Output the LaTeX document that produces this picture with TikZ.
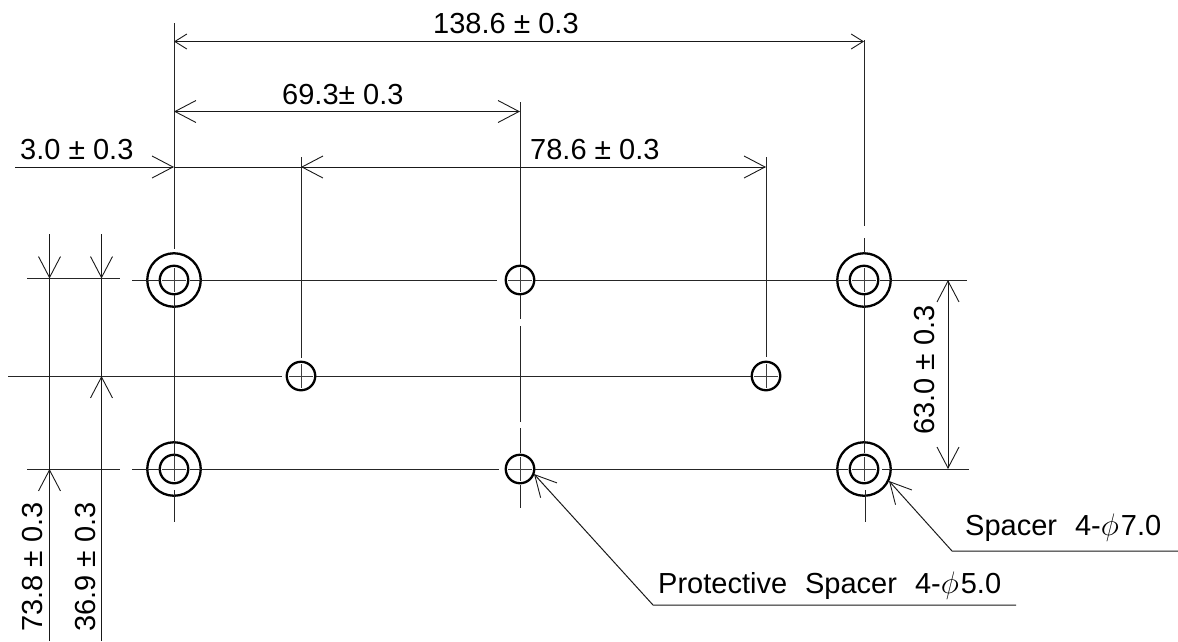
\documentclass[tikz,border=0pt]{standalone}
\usepackage{fontspec}
\setmainfont{Liberation Sans}
\usetikzlibrary{arrows.meta,calc}
\newcommand{\plusminus}{{\fontsize{30}{30}\selectfont ±}}
\newcommand{\diam}{\scalebox{1.25}{\ensuremath{\phi}}}
\tikzset{
  x=1pt,y=-1pt,
  axisline/.style={line width=1pt,black!85},
  crossline/.style={line width=0.8pt,black!75},
  dimline/.style={line width=1pt,black!90},
  bigtip/.style={{Straight Barb[length=21pt,width=22pt,line width=0.9pt]}-{Straight Barb[length=21pt,width=22pt,line width=0.9pt]}},
  endtip/.style={-{Straight Barb[length=21pt,width=22pt,line width=0.9pt]}},
  smalltip/.style={{Straight Barb[length=12pt,width=15pt,line width=0.9pt]}-{Straight Barb[length=12pt,width=15pt,line width=0.9pt]}},
  hole/.style={circle,draw,line width=2.3pt,minimum size=28.5pt,inner sep=0pt,fill=white},
  ring/.style={circle,draw,line width=2.3pt,minimum size=53.5pt,inner sep=0pt},
  dimtext/.style={font=\fontsize{29}{29}\selectfont,inner sep=0pt,anchor=base west},
  vdimtext/.style={dimtext,rotate=90},
}
\begin{document}
\begin{tikzpicture}
\useasboundingbox (0,0) rectangle (1178,641);
% centre coordinates
\coordinate (A) at (174,280); \coordinate (B) at (520,280); \coordinate (C) at (864,280);
\coordinate (D) at (174,469); \coordinate (E) at (520,469); \coordinate (F) at (864,469);
\coordinate (G) at (301,376); \coordinate (H) at (766,376);

% holes
\node[ring] (ringA) at (A) {}; \node[ring] (ringC) at (C) {};
\node[ring] (ringD) at (D) {}; \node[ring] (ringF) at (F) {};
\foreach \n in {A,B,C,D,E,F,G,H}{
  \node[hole] (hole\n) at (\n) {};
  \draw[crossline] ($(\n)+(-12,0)$) -- ($(\n)+(12,0)$) ($(\n)+(0,-12)$) -- ($(\n)+(0,12)$);
}

% centre lines, horizontal
\draw[axisline] (132,280) -- (160,280) (190,280) -- (497,280) (535,280) -- (848,280) (880,280) -- (967,280);
\draw[axisline] (132,469) -- (160,469) (190,469) -- (499,469) (535,469) -- (848,469) (882,469) -- (969,469);
\draw[axisline] (8,376) -- (282,376) (316,376) -- (751,376);
% centre lines, vertical
\draw[axisline] (174,23) -- (174,249) (174,295) -- (174,457) (174,490) -- (174,522);
\draw[axisline] (520,102) -- (520,265) (520,295) -- (520,319) (520,326) -- (520,422) (520,428) -- (520,453) (520,485) -- (520,508);
\draw[axisline] (864,40) -- (864,226) (864,238) -- (864,253) (864,295) -- (864,453) (865,490) -- (865,522);
\draw[axisline] (301,157) -- (301,358);
\draw[axisline] (766,157) -- (766,357);

% horizontal dimensions
\coordinate (t1) at (174,41.5); \coordinate (t2) at (864,41.5);
\draw[dimline,smalltip] (t1) -- (t2);
\coordinate (m1) at (174,111.5); \coordinate (m2) at (520,111.5);
\draw[dimline,bigtip] (m1) -- (m2);
\coordinate (l0) at (15,167); \coordinate (l1) at (174,167); \coordinate (l2) at (301,167); \coordinate (l3) at (766,167);
\draw[dimline,endtip] (l0) -- (l1);
\draw[dimline] (l1) -- (l2);
\draw[dimline,bigtip] (l2) -- (l3);

% vertical dimensions, left
\draw[axisline] (27,278.5) -- (120,278.5) (27,469) -- (120,469);
\coordinate (v1a) at (49.5,234); \coordinate (v1b) at (49.5,278.5); \coordinate (v1c) at (49.5,469); \coordinate (v1d) at (49.5,641);
\draw[dimline,endtip] (v1a) -- (v1b);
\draw[dimline] (v1b) -- (v1c);
\draw[dimline,endtip] (v1d) -- (v1c);
\coordinate (v2a) at (101.5,234); \coordinate (v2b) at (101.5,278.5); \coordinate (v2c) at (101.5,376); \coordinate (v2d) at (101.5,641);
\draw[dimline,endtip] (v2a) -- (v2b);
\draw[dimline] (v2b) -- (v2c);
\draw[dimline,endtip] (v2d) -- (v2c);

% vertical dimension, right
\coordinate (r1) at (948,280); \coordinate (r2) at (948,469);
\draw[dimline,bigtip] (r1) -- (r2);

% leaders
\coordinate (s1) at (889,481); \coordinate (s2) at (952,551); \coordinate (s3) at (1178,551);
\draw[dimline,{Straight Barb[length=21pt,width=22pt,line width=0.9pt]}-] (s1) -- (s2) -- (s3);
\coordinate (p1) at (534,474); \coordinate (p2) at (653,605); \coordinate (p3) at (1016,605);
\draw[dimline,{Straight Barb[length=21pt,width=22pt,line width=0.9pt]}-] (p1) -- (p2) -- (p3);

% labels
\node[dimtext] (lab1) at (433,33) {138.6 \plusminus\ 0.3};
\node[dimtext] (lab2) at (282,104) {69.3\plusminus\ 0.3};
\node[dimtext] (lab3) at (20,159.5) {3.0 \plusminus\ 0.3};
\node[dimtext] (lab4) at (530,159) {78.6 \plusminus\ 0.3};
\node[vdimtext] (lab5) at (934,435) {63.0 \plusminus\ 0.3};
\node[vdimtext] (lab6) at (42,632) {73.8 \plusminus\ 0.3};
\node[vdimtext] (lab7) at (95,632) {36.9 \plusminus\ 0.3};
\node[dimtext] (lab8) at (965,535) {Spacer\hspace{18pt}4-\diam\hspace{2pt}7.0};
\node[dimtext] (lab9) at (658,593) {Protective\hspace{18pt}Spacer\hspace{18pt}4-\diam\hspace{2pt}5.0};
\end{tikzpicture}
\end{document}
